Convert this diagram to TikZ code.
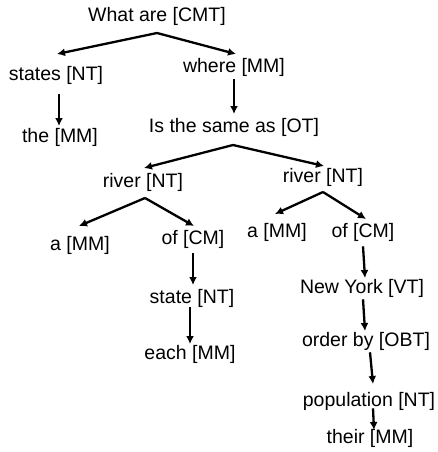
\documentclass[tikz,border=0pt]{standalone}
\usepackage{fontspec}
\setmainfont{Liberation Sans}
\usetikzlibrary{arrows.meta}
\begin{document}
\begin{tikzpicture}[x=1pt,y=-1pt,
  lbl/.style={inner sep=0pt, font=\fontsize{19.5}{23}\selectfont},
  arr/.style={line width=2.3pt, -{Latex[length=8pt,width=8pt]}}]
\useasboundingbox (0,0) rectangle (437,452);
% nodes
\node[lbl] (what) at (157,16) {What are [CMT]};
\node[lbl] (states) at (56,75) {states [NT]};
\node[lbl] (where) at (234,67) {where [MM]};
\node[lbl] (the) at (60,137) {the [MM]};
\node[lbl] (same) at (234,127) {Is the same as [OT]};
\node[lbl] (riverL) at (143,182) {river [NT]};
\node[lbl] (riverR) at (323,177) {river [NT]};
\node[lbl] (aL) at (80,245) {a [MM]};
\node[lbl] (ofL) at (193,239) {of [CM]};
\node[lbl] (aR) at (277,232) {a [MM]};
\node[lbl] (ofR) at (363,232) {of [CM]};
\node[lbl] (state) at (192,298) {state [NT]};
\node[lbl] (each) at (190,354) {each [MM]};
\node[lbl] (ny) at (362,288) {New York [VT]};
\node[lbl] (order) at (366,341) {order by [OBT]};
\node[lbl] (pop) at (369,401) {population [NT]};
\node[lbl] (their) at (370,438) {their [MM]};
% peaks and ends
\coordinate (pWhat) at (157,33);
\coordinate (tStates) at (57,54);
\coordinate (tWhere) at (236,54);
\coordinate (pSame) at (233,145);
\coordinate (tRiverL) at (144,168);
\coordinate (tRiverR) at (324,166);
\coordinate (pRiverL) at (145,198);
\coordinate (tAL) at (79,226);
\coordinate (tOfL) at (194,226);
\coordinate (pRiverR) at (323,192);
\coordinate (tAR) at (275,214);
\coordinate (tOfR) at (366,219);
% connectors
\draw[arr] (pWhat) -- (tStates);
\draw[arr] (pWhat) -- (tWhere);
\draw[arr] (states.south -| 59,0) ++(0,10) -- (59,126) coordinate (tThe);
\draw[arr] (where.south) ++(0,3) -- (234,114) coordinate (tSame);
\draw[arr] (pSame) -- (tRiverL);
\draw[arr] (pSame) -- (tRiverR);
\draw[arr] (pRiverL) -- (tAL);
\draw[arr] (pRiverL) -- (tOfL);
\draw[arr] (pRiverR) -- (tAR);
\draw[arr] (pRiverR) -- (tOfR);
\draw[arr] (ofL.south) ++(0,5) -- (193,285) coordinate (tState);
\draw[arr] (state.south) ++(-2,0) -- (190,344) coordinate (tEach);
\draw[arr] (ofR.south) ++(0,5) -- (365,278) coordinate (tNY);
\draw[arr] (ny.south) ++(1,2) -- (365,331) coordinate (tOrder);
\draw[arr] (order.south) ++(4,2) -- (373,384) coordinate (tPop);
\draw[arr] (pop.south) ++(4,-2) -- (374,430) coordinate (tTheir);
\end{tikzpicture}
\end{document}
